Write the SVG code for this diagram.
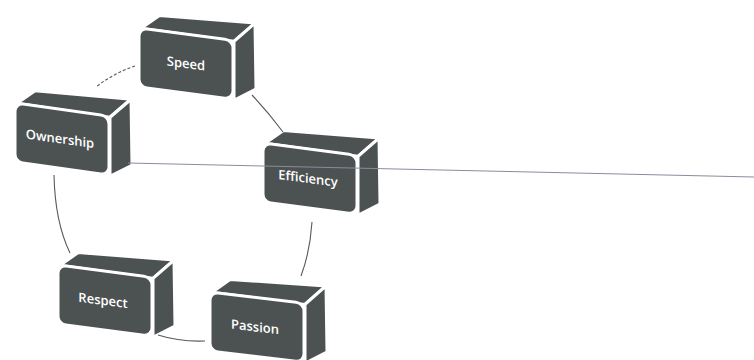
<svg xmlns="http://www.w3.org/2000/svg" xmlns:xlink="http://www.w3.org/1999/xlink" width="754" height="360" viewBox="0 0 754 360">
<style>
.face{fill:#4c5252;stroke:#ffffff;stroke-width:3;stroke-linejoin:round}
.lbl{fill:#ffffff;font-family:"Open Sans","Liberation Sans",sans-serif;font-size:13px;font-weight:600;text-anchor:middle}
.conn{fill:none;stroke:#555a5a;stroke-width:1.1}
.dash{stroke-dasharray:3 2}
.long{fill:none;stroke:#8a8c9c;stroke-width:1}
</style>
<defs>
<g id="box">
<polygon class="face" points="2,0 20,-15 116,-20 95,1"/>
<polygon class="face" points="95,1 116,-20 117,46 95,60"/>
<rect class="face" x="0" y="0" width="94" height="59" rx="8"/>
</g>
</defs>
<rect width="754" height="360" fill="#ffffff"/>
<g id="speed" transform="matrix(1,0.13,0,1,139,28)">
<use xlink:href="#box"/>
<text class="lbl" x="47" y="34">Speed</text>
</g>
<g id="ownership" transform="matrix(1,0.14,0,1,15,103)">
<use xlink:href="#box"/>
<text class="lbl" x="45" y="34">Ownership</text>
</g>
<g id="efficiency" transform="matrix(1,0.13,0,1,263,143)">
<use xlink:href="#box"/>
<text class="lbl" x="45" y="34">Efficiency</text>
</g>
<g id="respect" transform="matrix(1,0.13,0,1,58,265)">
<use xlink:href="#box"/>
<text class="lbl" x="45" y="34">Respect</text>
</g>
<g id="passion" transform="matrix(1,0.12,0,1,210,292)">
<use xlink:href="#box"/>
<text class="lbl" x="45" y="34">Passion</text>
</g>
<g id="connectors">
<path class="conn dash" d="M135,66 Q114,73 96,87"/>
<path class="conn" d="M252,95 Q268,112 283,132"/>
<path class="long" d="M128,163 L754,177"/>
<path class="conn" d="M54,175 Q55,222 70,253"/>
<path class="conn" d="M312,222 Q310,252 301,276"/>
<path class="conn" d="M158,335 Q180,342 205,341"/>
</g>
</svg>
